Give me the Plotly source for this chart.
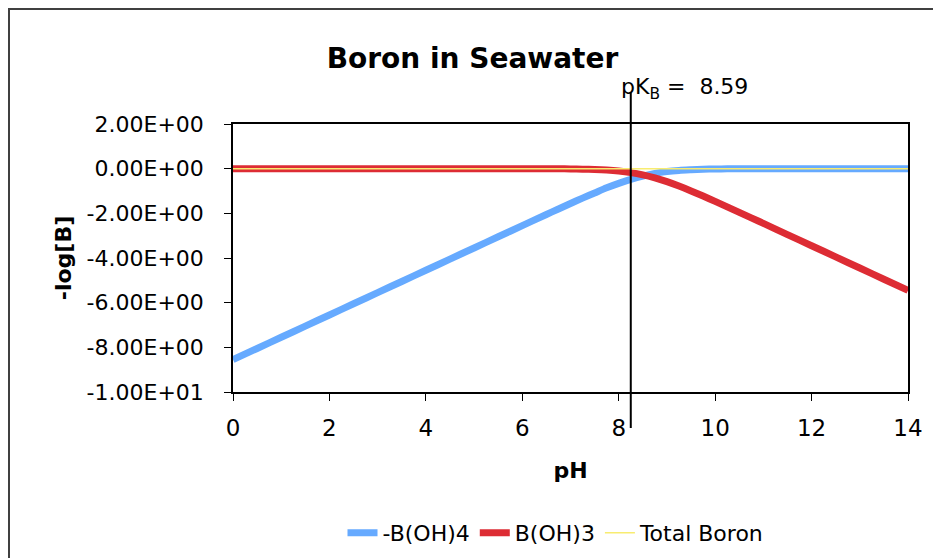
import plotly.graph_objects as go

# ---- data ----
ph = [0, 0.5, 1, 1.5, 2, 2.5, 3, 3.5, 4, 4.5, 5, 5.5, 6, 6.5,
      6.75, 7, 7.25, 7.5, 7.75, 8, 8.25, 8.5, 8.75, 9, 9.25, 9.5, 9.75, 10,
      10.25, 10.5, 10.75, 11,
      11.5, 12, 12.5, 13, 13.5, 14]
borate = [-8.55, -8.05, -7.55, -7.05, -6.55, -6.05, -5.55, -5.05, -4.55, -4.05,
          -3.55, -3.05, -2.55, -2.05,
          -1.807, -1.56, -1.32, -1.09, -0.86, -0.66, -0.48, -0.33, -0.21, -0.13,
          -0.08, -0.05, -0.027, -0.015, -0.009, -0.005, -0.003, -0.002,
          0, 0, 0, 0, 0, 0]
boric = [0, 0, 0, 0, 0, 0, 0, 0, 0, 0, 0, 0, -0.001, -0.004,
         -0.007, -0.012, -0.021, -0.037, -0.064, -0.108, -0.176, -0.277, -0.412,
         -0.582, -0.779, -0.996, -1.227, -1.465, -1.709, -1.955, -2.203, -2.45,
         -2.95, -3.45, -3.95, -4.45, -4.95, -5.45]
total = [0] * len(ph)
series_names = ["-B(OH)4", "B(OH)3", "Total Boron"]
pk_line_x = 8.25
pk_text = "pK<sub>B</sub> =  8.59"

x_ticks = [0, 2, 4, 6, 8, 10, 12, 14]
y_ticks = [2, 0, -2, -4, -6, -8, -10]
y_ticklabels = ["2.00E+00", "0.00E+00", "-2.00E+00", "-4.00E+00",
                "-6.00E+00", "-8.00E+00", "-1.00E+01"]

FONT = "DejaVu Sans"
OFF = 8  # page body offset

fig = go.Figure()
fig.add_trace(go.Scatter(x=ph, y=borate, mode="lines", name=series_names[0],
                         line=dict(color="#66AAFF", width=7, shape="spline", smoothing=0.8)))
fig.add_trace(go.Scatter(x=ph, y=boric, mode="lines", name=series_names[1],
                         line=dict(color="#DD2C34", width=7, shape="spline", smoothing=0.8)))
fig.add_trace(go.Scatter(x=ph, y=total, mode="lines", name=series_names[2],
                         line=dict(color="#F8EC70", width=1.5)))

# vertical pK line
fig.add_shape(type="line", xref="x", yref="paper", x0=pk_line_x, x1=pk_line_x,
              y0=-0.134, y1=1.118, line=dict(color="black", width=2), layer="above")
fig.add_annotation(xref="paper", yref="paper", x=(619 - 233) / 675, y=(392 - 88) / 268,
                   xanchor="left", yanchor="middle", text=pk_text, showarrow=False,
                   font=dict(family=FONT, size=22, color="black"))

# outer chart border
fig.add_shape(type="rect", xref="paper", yref="paper",
              x0=(9 - 233) / 675, x1=(960 - 233) / 675,
              y0=(392 - 580) / 268, y1=(392 - 9) / 268,
              line=dict(color="#404040", width=2), fillcolor="rgba(0,0,0,0)")

fig.update_layout(
    width=941, height=558,
    margin=dict(l=233 - OFF, r=941 - (908 - OFF), t=124 - OFF, b=558 - (392 - OFF),
                autoexpand=False),
    paper_bgcolor="white", plot_bgcolor="white",
    font=dict(family=FONT, color="black"),
    title=dict(text="<b>Boron in Seawater</b>", xref="container", yref="container",
               x=(472.5 - OFF) / 941, y=1 - (58 - OFF) / 558, xanchor="center",
               yanchor="middle",
               font=dict(family=FONT, size=28, color="black")),
    showlegend=True,
    legend=dict(orientation="h", xref="paper", yref="paper",
                x=(556 - 233) / 675, y=(392 - 533) / 268,
                xanchor="center", yanchor="middle",
                font=dict(family=FONT, size=22, color="black"),
                bgcolor="rgba(0,0,0,0)"),
)
fig.update_xaxes(range=[0, 14], tickvals=x_ticks, showgrid=False, zeroline=False,
                 showline=True, linecolor="black", linewidth=1.5, mirror=True,
                 ticks="outside", ticklen=7, tickcolor="black",
                 tickfont=dict(family=FONT, size=23), ticklabelstandoff=8,
                 title=dict(text="<b>pH</b>", font=dict(family=FONT, size=22), standoff=22))
fig.update_yaxes(range=[-10, 2], tickvals=y_ticks, ticktext=y_ticklabels,
                 showgrid=False, zeroline=False,
                 showline=True, linecolor="black", linewidth=1.5, mirror=True,
                 ticks="outside", ticklen=7, tickcolor="black",
                 tickfont=dict(family=FONT, size=22), ticklabelstandoff=16,
                 title=dict(text="<b>-log[B]</b>", font=dict(family=FONT, size=22), standoff=9))

fig.write_html("out.html")
